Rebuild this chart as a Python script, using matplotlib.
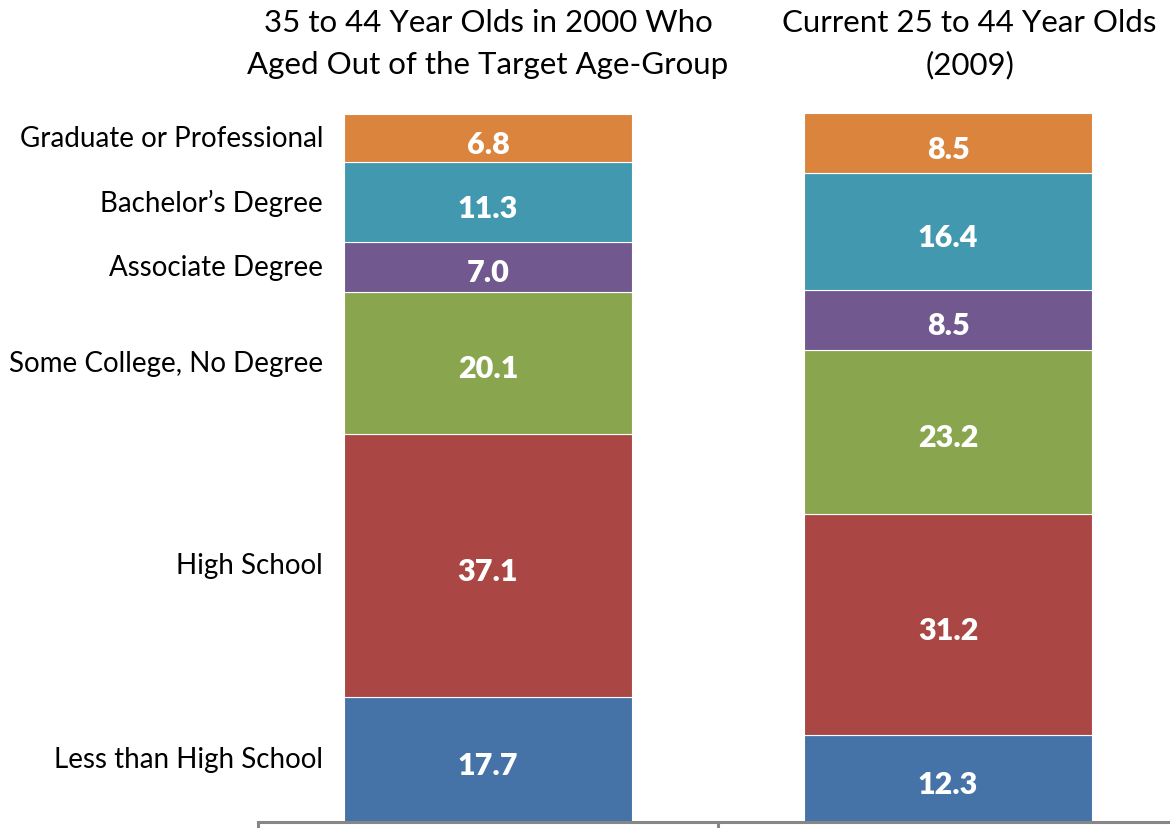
import matplotlib
matplotlib.use("Agg")
import matplotlib.pyplot as plt
import numpy as np

plt.rcParams['font.family'] = ['Lato', 'DejaVu Sans']

# data
categories = ['Less than High School', 'High School', 'Some College, No Degree',
              'Associate Degree', "Bachelor\u2019s Degree", 'Graduate or Professional']
groups = ['35 to 44 Year Olds in 2000 Who\nAged Out of the Target Age-Group',
          'Current 25 to 44 Year Olds\n(2009)']
aged_out = [17.7, 37.1, 20.1, 7.0, 11.3, 6.8]
current = [12.3, 31.2, 23.2, 8.5, 16.4, 8.5]
colors = ['#4572A7', '#AA4643', '#89A54E', '#71588F', '#4198AF', '#DB843D']

series = np.array([aged_out, current])

fig = plt.figure(figsize=(11.70, 8.29), dpi=100)
ax = fig.add_axes([258 / 1170, 6 / 829, 920 / 1170, 708 / 829])

x = np.arange(len(groups))
bottoms = np.zeros(len(groups))
for i, cat in enumerate(categories):
    vals = series[:, i]
    ax.bar(x, vals, width=0.624, bottom=bottoms, color=colors[i],
           edgecolor='white', linewidth=0.8)
    for xi, v, b in zip(x, vals, bottoms):
        ax.annotate(f'{v:.1f}', (xi, b + v / 2), xytext=(0, -4),
                    textcoords='offset points', ha='center', va='center',
                    color='white', fontsize=22, fontweight='heavy')
    # category label, aligned with the left bar segment
    ax.text(-0.5 + 65 / 460, bottoms[0] + vals[0] / 2, cat, ha='right', va='center',
            fontsize=20, color='black', clip_on=False)
    bottoms += vals

# group titles above bars
ax.text(0, 110.0, groups[0], ha='center', va='center', fontsize=22.5,
        linespacing=1.6, clip_on=False)
ax.text(1.047, 110.0, groups[1], ha='center', va='center', fontsize=22.5,
        linespacing=1.6, clip_on=False)

ax.set_xlim(-0.5, 1.5)
ax.set_ylim(0, 100)
for s in ['left', 'right', 'top']:
    ax.spines[s].set_visible(False)
ax.spines['bottom'].set_color('#868686')
ax.spines['bottom'].set_linewidth(2.2)
ax.set_yticks([])
ax.set_xticks([-0.5, 0.5, 1.5])
ax.set_xticklabels([])
ax.tick_params(axis='x', direction='out', length=10, width=2.2, color='#868686')

fig.savefig('out.png', dpi=100)
